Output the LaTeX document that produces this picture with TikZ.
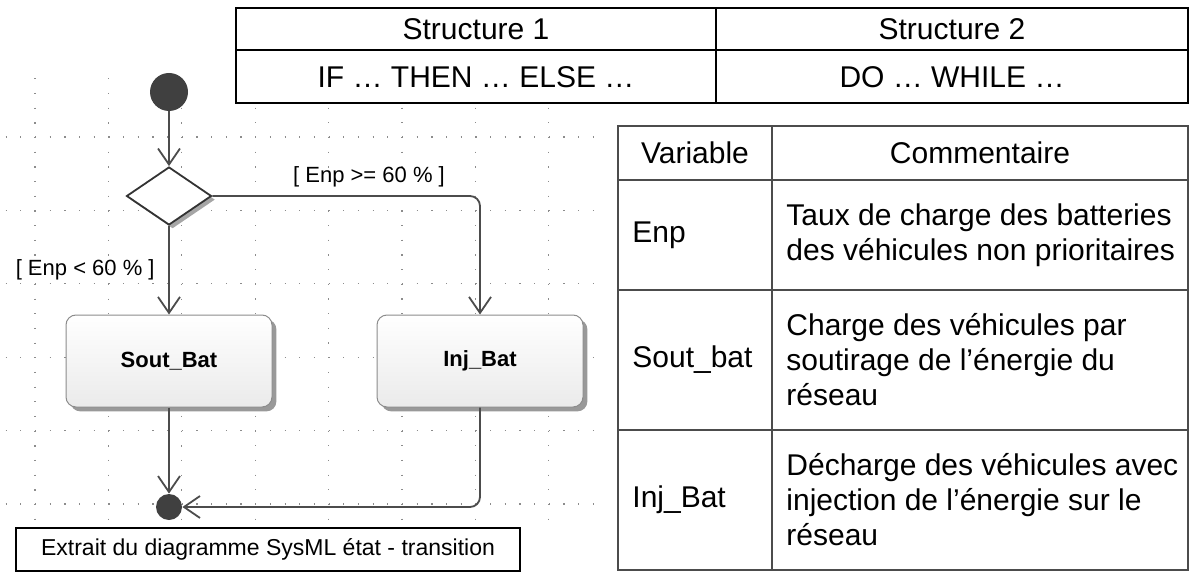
\documentclass[tikz,border=0pt]{standalone}
\usepackage{fontspec}
\setmainfont{Liberation Sans}
\usepackage{tikz}
\usetikzlibrary{arrows.meta,shapes.geometric,shadows}

\tikzset{
  griddot/.style={black!45,line width=0.6pt,dash pattern=on 0.6pt off 6.74pt},
  trans/.style={draw=black!70,line width=0.9pt,
    -{Straight Barb[length=8pt,width=11pt,line width=0.9pt]}},
  pseudo/.style={circle,fill=black!75,inner sep=0pt},
  etat/.style={draw=black!45,line width=0.5pt,rounded corners=5pt,
    minimum width=103pt,minimum height=46pt,top color=white,bottom color=black!8,
    drop shadow={shadow xshift=2.2pt,shadow yshift=-2.2pt,fill=black!40,opacity=1},
    font=\fontsize{11}{13}\selectfont\bfseries},
  garde/.style={font=\fontsize{11}{13}\selectfont,inner sep=0pt},
  cell/.style={font=\fontsize{15}{17.5}\selectfont,inner sep=0pt},
}

\begin{document}
\begin{tikzpicture}[x=0.5pt,y=-0.5pt]
\useasboundingbox (0,0) rectangle (1192,572);

\foreach \gx in {35,108.4,181.8}
  \draw[griddot] (\gx,78.3) -- (\gx,522);
\foreach \gx in {255.2,328.6,402,475.4,548.8}
  \draw[griddot] (\gx,107.6) -- (\gx,522);
\foreach \gy in {137,210.4,283.8,357.2,430.6,504}
  \draw[griddot] (5.6,\gy) -- (600,\gy);

\node[pseudo,minimum size=19pt] (init) at (169,92) {};
\node[diamond,draw=black!80,line width=0.9pt,fill=white,minimum width=42.5pt,
  minimum height=29pt,inner sep=0pt,
  drop shadow={shadow xshift=1.8pt,shadow yshift=-1.8pt,fill=black!35,opacity=1}] (dec) at (169,196) {};
\node[etat] (sout) at (169,361) {Sout\_Bat};
\node[etat] (inj) at (480,361) {Inj\_Bat};
\node[pseudo,minimum size=13pt] (fin) at (169,507) {};

\node[garde,anchor=east] (lt) at (155,270) {[ Enp < 60 \% ]};
\node[garde] (ge) at (369,177) {[ Enp >= 60 \% ]};

\draw[trans] (init) -- (dec);
\draw[trans] (dec) -- (sout);
\draw[trans,rounded corners=5pt] (dec.east) -| (inj.north);
\draw[trans] (sout) -- (fin);
\draw[trans,rounded corners=5pt] (inj.south) |- (fin.east);

\node[draw=black,line width=0.75pt,fill=white,minimum width=252pt,minimum height=21.5pt,
  font=\fontsize{11.5}{13}\selectfont] (cap) at (268,549.5) {Extrait du diagramme SysML état - transition};

\draw[line width=1.2pt] (236,8) rectangle (1188,103);
\draw[line width=1.2pt] (236,50) -- (1188,50) (716,8) -- (716,103);
\node[cell] (s1) at (476,29) {Structure 1};
\node[cell] (s2) at (952,29) {Structure 2};
\node[cell] (ite) at (476,77) {IF … THEN … ELSE …};
\node[cell] (dw) at (952,77) {DO … WHILE …};

\draw[black!70,line width=0.8pt] (618,126) rectangle (1188,570);
\draw[black!70,line width=0.8pt] (618,180) -- (1188,180) (618,290) -- (1188,290)
  (618,430) -- (1188,430) (772,126) -- (772,570);
\node[cell] (hv) at (695,153) {Variable};
\node[cell] (hc) at (980,153) {Commentaire};
\node[cell,anchor=west] (v1) at (632,235) {Enp};
\node[cell,anchor=west,align=left] (c1) at (786,235) {Taux de charge des batteries\\des véhicules non prioritaires};
\node[cell,anchor=west] (v2) at (632,360) {Sout\_bat};
\node[cell,anchor=west,align=left] (c2) at (786,360) {Charge des véhicules par\\soutirage de l’énergie du\\réseau};
\node[cell,anchor=west] (v3) at (632,500) {Inj\_Bat};
\node[cell,anchor=west,align=left] (c3) at (786,500) {Décharge des véhicules avec\\injection de l’énergie sur le\\réseau};
\end{tikzpicture}
\end{document}
